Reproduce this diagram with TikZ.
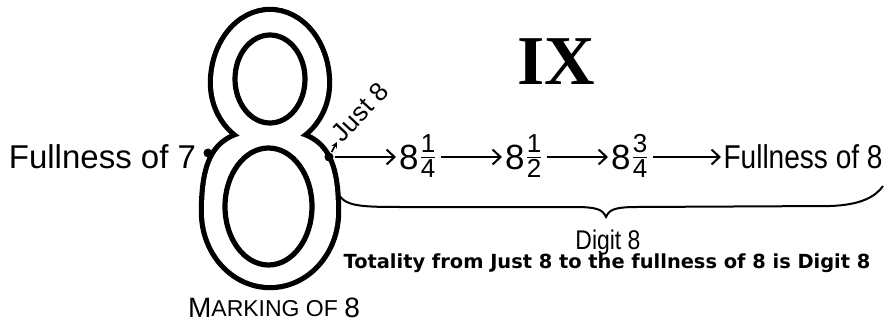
\documentclass[tikz,border=0pt]{standalone}
\usepackage{fontspec}
\setmainfont{Liberation Sans}
\newfontfamily\romanfont{Liberation Serif}
\newfontfamily\notefont{DejaVu Sans}
\usetikzlibrary{arrows.meta, positioning}

\newcommand{\fracdig}{\fontsize{13}{13}\selectfont}
\newcommand{\eightfrac}[2]{8\raisebox{1.5pt}{$\textstyle{\hbox{\fracdig #1}\over\hbox{\fracdig #2}}$}}

\begin{document}
\begin{tikzpicture}[x=0.5pt, y=0.5pt, >={Straight Barb[length=4pt,width=7.5pt]}, line width=1pt,
  lbl/.style={inner sep=1pt, font=\fontsize{16.5}{18}\selectfont},
  narrow/.style={xscale=.85, transform shape},
  stage/.style={inner sep=1pt, anchor=base west, font=\fontsize{17.5}{20}\selectfont},
  markdot/.style={circle, fill, inner sep=0pt, minimum size=4.5pt},
  glyph/.style={line width=2.6pt},
  upperbowl/.style={insert path={(327,239) .. controls (327,278.2) and (301.5,310) .. (270,310)
    .. controls (238.5,310) and (213,278.2) .. (213,239) .. controls (213,204.8) and (238.5,177) .. (270,177)
    .. controls (301.5,177) and (327,204.8) .. cycle}},
  lowerbowl/.style={insert path={(336,110) .. controls (336,170) and (319.5,190) .. (270,190)
    .. controls (220.5,190) and (204,170) .. (204,110) .. controls (204,69.7) and (233.5,37) .. (270,37)
    .. controls (306.5,37) and (336,69.7) .. cycle}}]

  \useasboundingbox (0,0) rectangle (895,322);

  % Outlined figure 8
  \draw [glyph, line width=5.2pt, upperbowl, lowerbowl];
  \fill [white, upperbowl, lowerbowl];
  \draw [glyph] (270,243) ellipse [x radius=35, y radius=44];
  \draw [glyph] (268.5,115.5) ellipse [x radius=43.5, y radius=58.5];

  % Points on the 8
  \node [markdot] (full7) at (208,169) {};
  \node [lbl, anchor=base east] (full7txt) at (199,154) {Fullness of 7};
  \node [markdot] (just8) at (329,165) {};
  \coordinate (j8tip) at (337,180);
  \draw [-{Stealth[length=3pt,width=3pt]}, line width=0.8pt] (just8) -- (j8tip);
  \node [rotate=47, anchor=south west, inner sep=1pt, font=\fontsize{13}{15}\selectfont] (just8txt) at (343,174) {Just 8};

  % Steps from Just 8 to the fullness of 8
  \node [stage] (q1) at (396,153) {\eightfrac{1}{4}};
  \node [stage] (q2) at (502,153) {\eightfrac{1}{2}};
  \node [stage] (q3) at (608,153) {\eightfrac{3}{4}};
  \node [lbl, narrow, anchor=base west] (full8) at (721,154) {Fullness of 8};
  \draw [->] (just8) -- (q1.west |- just8);
  \draw [->] (q1.east |- just8) -- (q2.west |- just8);
  \draw [->] (q2.east |- just8) -- (q3.west |- just8);
  \draw [->] (q3.east |- just8) -- (full8.west |- just8);

  % Brace under the steps
  \coordinate (bl) at (337,130);
  \coordinate (br) at (883,136);
  \coordinate (btip) at (606,105);
  \draw (bl) .. controls (344,116) and (358,115) .. (400,115) -- (575,115)
    .. controls (598,115) and (603,112) .. (btip) .. controls (609,112) and (614,115) .. (637,115)
    -- (830,116) .. controls (862,117) and (876,126) .. (br);

  % Texts
  \node [narrow, anchor=base, inner sep=1pt, font=\fontsize{13.5}{15}\selectfont] (digit) at (608,73) {Digit 8};
  \node [anchor=base, inner sep=1pt, font=\notefont\bfseries\fontsize{9.7}{11}\selectfont] (totality) at (607,54) {Totality from Just 8 to the fullness of 8 is Digit 8};
  \node [anchor=base, inner sep=1pt, font=\romanfont\bfseries\fontsize{35}{40}\selectfont] (numeral) at (556.5,237) {IX};
  \node [anchor=base, inner sep=1pt] (marking) at (274,5) {\fontsize{14}{15}\selectfont M\fontsize{11.5}{12}\selectfont ARKING OF \fontsize{14}{15}\selectfont 8};
\end{tikzpicture}
\end{document}
